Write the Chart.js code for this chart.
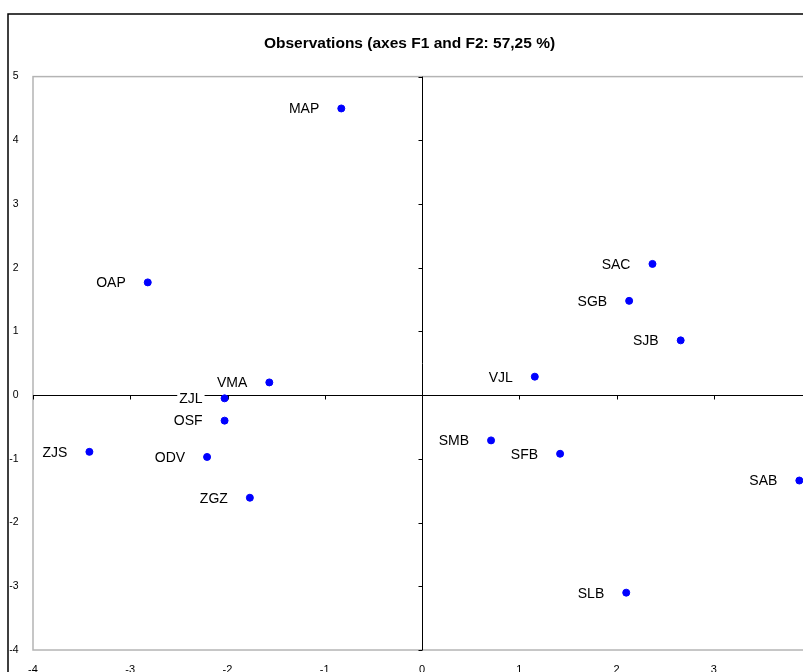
<!DOCTYPE html>
<html lang="en">
<head>
<meta charset="UTF-8">
<title>Observations (axes F1 and F2: 57,25 %)</title>
<script src="https://cdn.jsdelivr.net/npm/chart.js"></script>
<style>
  html, body { margin: 0; padding: 0; overflow: hidden; background: #fff; }
  #wrap { position: absolute; left: 0; top: 0; }
</style>
</head>
<body>
<div id="wrap"><canvas id="obsChart" width="830" height="672"></canvas></div>
<script>
// observation labels and their coordinates on F1 / F2
const obsNames = ['MAP', 'OAP', 'VMA', 'ZJL', 'OSF', 'ODV', 'ZGZ', 'ZJS',
                  'SAC', 'SGB', 'SJB', 'VJL', 'SMB', 'SFB', 'SAB', 'SLB'];
const f1 = [-0.83, -2.82, -1.57, -2.03, -2.03, -2.21, -1.77, -3.42,
             2.37,  2.13,  2.66,  1.16,  0.71,  1.42,  3.88,  2.10];
const f2 = [ 4.50,  1.77,  0.20, -0.05, -0.40, -0.97, -1.61, -0.89,
             2.06,  1.48,  0.86,  0.29, -0.71, -0.92, -1.34, -3.10];
const xTicks = [-4, -3, -2, -1, 0, 1, 2, 3, 4];
const yTicks = [-4, -3, -2, -1, 0, 1, 2, 3, 4, 5];
const chartTitle = 'Observations (axes F1 and F2: 57,25 %)';

const fontFam = '"Liberation Sans", Arial, sans-serif';

const points = obsNames.map((n, i) => ({ x: f1[i], y: f2[i], name: n }));

const decor = {
  id: 'decor',
  beforeDraw(chart) {
    const ctx = chart.ctx;
    ctx.save();
    ctx.fillStyle = '#fff';
    ctx.fillRect(0, 0, chart.width, chart.height);
    // outer frame
    ctx.strokeStyle = '#000';
    ctx.lineWidth = 1.5;
    ctx.strokeRect(8, 14, 812, 700);
    ctx.restore();
  },
  beforeDatasetsDraw(chart) {
    const ctx = chart.ctx;
    const a = chart.chartArea;
    const xs = chart.scales.x, ys = chart.scales.y;
    ctx.save();
    // plot frame
    ctx.strokeStyle = '#b4b4b4';
    ctx.lineWidth = 1.5;
    ctx.strokeRect(a.left, a.top, a.right - a.left, a.bottom - a.top);
    // zero axes
    const x0 = Math.round(xs.getPixelForValue(0)) + 0.5;
    const y0 = Math.round(ys.getPixelForValue(0)) + 0.5;
    ctx.strokeStyle = '#000';
    ctx.lineWidth = 1;
    ctx.beginPath();
    ctx.moveTo(a.left, y0); ctx.lineTo(a.right, y0);
    ctx.moveTo(x0, a.top); ctx.lineTo(x0, a.bottom);
    xTicks.forEach(v => {
      const px = Math.round(xs.getPixelForValue(v)) + 0.5;
      ctx.moveTo(px, y0); ctx.lineTo(px, y0 + 4);
    });
    yTicks.forEach(v => {
      const py = Math.round(ys.getPixelForValue(v)) + 0.5;
      ctx.moveTo(x0 - 4, py); ctx.lineTo(x0, py);
    });
    ctx.stroke();
    ctx.restore();
  },
  afterDatasetsDraw(chart) {
    const ctx = chart.ctx;
    const meta = chart.getDatasetMeta(0);
    ctx.save();
    ctx.font = '14px ' + fontFam;
    ctx.textAlign = 'right';
    ctx.textBaseline = 'middle';
    meta.data.forEach((el, i) => {
      const label = points[i].name;
      const w = ctx.measureText(label).width;
      const rx = el.x - 22;
      ctx.fillStyle = '#fff';
      ctx.fillRect(rx - w - 2, el.y - 8, w + 4, 16);
      ctx.fillStyle = '#000';
      ctx.fillText(label, rx, el.y + 1);
    });
    ctx.restore();
  }
};

new Chart(document.getElementById('obsChart'), {
  type: 'scatter',
  data: {
    datasets: [{
      data: points,
      backgroundColor: '#0000ff',
      borderColor: '#0000ff',
      pointRadius: 3.5,
      pointHoverRadius: 3.5
    }]
  },
  options: {
    responsive: false,
    animation: false,
    events: [],
    layout: { padding: { left: 8, right: 19, top: 0, bottom: 0 } },
    plugins: {
      legend: { display: false },
      tooltip: { enabled: false },
      title: {
        display: true,
        text: chartTitle,
        color: '#000',
        font: { family: fontFam, size: 15.5, weight: 'bold' },
        padding: { top: 34, bottom: 24 }
      }
    },
    scales: {
      x: {
        type: 'linear',
        min: -4, max: 4,
        grid: { display: false, drawTicks: false },
        border: { display: false },
        afterFit: s => { s.height = 22; },
        afterBuildTicks: s => { s.ticks = xTicks.map(v => ({ value: v })); },
        ticks: {
          color: '#000', padding: 13,
          font: { family: fontFam, size: 11 },
          maxRotation: 0, autoSkip: false
        }
      },
      y: {
        type: 'linear',
        min: -4, max: 5,
        grid: { display: false, drawTicks: false },
        border: { display: false },
        afterFit: s => { s.width = 25; },
        afterBuildTicks: s => { s.ticks = yTicks.map(v => ({ value: v })); },
        ticks: {
          color: '#000', padding: 14.5,
          font: { family: fontFam, size: 10.5 },
          autoSkip: false
        }
      }
    }
  },
  plugins: [decor]
});
</script>
</body>
</html>
